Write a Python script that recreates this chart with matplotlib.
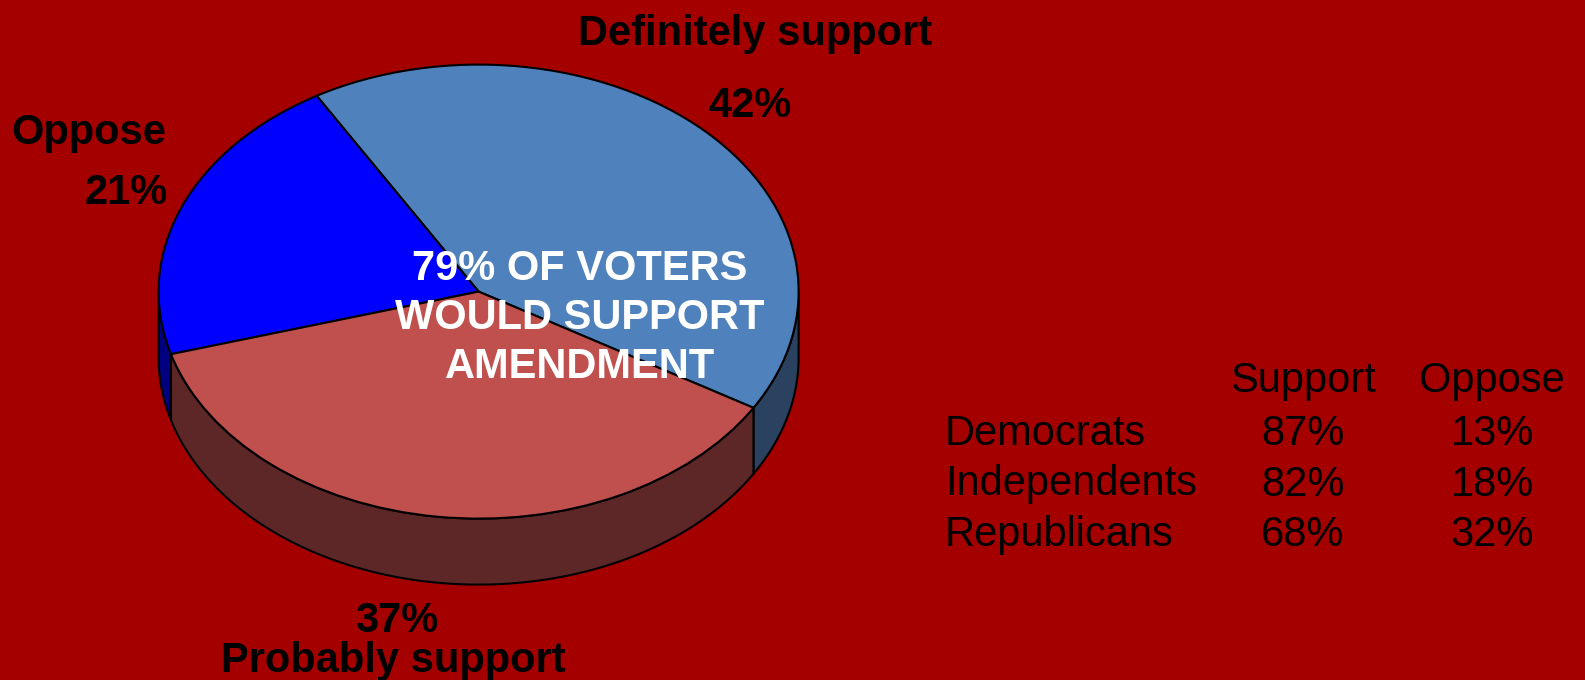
import numpy as np
import matplotlib
matplotlib.use('Agg')
import matplotlib.pyplot as plt
from matplotlib.patches import Polygon

# ---- data ----
labels = ['Definitely support', 'Oppose', 'Probably support']
values = [42, 21, 37]
top_colors = ['#4F81BD', '#0000FF', '#C0504D']
side_colors = ['#2A4260', '#000080', '#5E2727']
center_lines = ['79% OF VOTERS', 'WOULD SUPPORT', 'AMENDMENT']
table_cols = ['Support', 'Oppose']
parties = ['Democrats', 'Independents', 'Republicans']
support = [87, 82, 68]
oppose = [13, 18, 32]

W, H = 1585, 680
BG = '#A40000'
FONT = 'Liberation Sans'

fig = plt.figure(figsize=(W / 100, H / 100), dpi=100, facecolor=BG)
ax = fig.add_axes([0, 0, 1, 1])

# ellipse geometry in pixels
cx, cy, a, b = 478.6, 291.6, 320.0, 227.0
depth = 66.0 / b

wedges, _ = ax.pie(values, colors=top_colors, startangle=-30.8, counterclock=True,
                   radius=1, center=(0, 0),
                   wedgeprops=dict(edgecolor='black', linewidth=1.5, zorder=3))

for w, sc in zip(wedges, side_colors):
    t1, t2 = w.theta1, w.theta2
    for shift in (-360, 0, 360):
        lo = max(t1 + shift, 180)
        hi = min(t2 + shift, 360)
        if hi > lo:
            ts = np.radians(np.linspace(lo, hi, 150))
            top = np.column_stack([np.cos(ts), np.sin(ts)])
            bot = np.column_stack([np.cos(ts), np.sin(ts) - depth])[::-1]
            ax.add_patch(Polygon(np.vstack([top, bot]), closed=True, facecolor=sc,
                                 edgecolor='black', linewidth=1.5, zorder=2))

ax.set_aspect('auto')
ax.set_xlim(-cx / a, (W - cx) / a)
ax.set_ylim((cy - H) / b, cy / b)
ax.axis('off')


def T(x, y, s, **kw):
    kw.setdefault('family', FONT)
    kw.setdefault('fontsize', 30)
    kw.setdefault('va', 'baseline')
    kw.setdefault('ha', 'center')
    fig.text(x / W, 1 - y / H, s, **kw)


pct = [f'{v}%' for v in values]
# slice labels
T(755, 45, labels[0], weight='bold')
T(750, 117, pct[0], weight='bold')
T(89, 144, labels[1], weight='bold')
T(126, 204, pct[1], weight='bold')
T(397, 632, pct[2], weight='bold')
T(393, 672, labels[2], weight='bold')

# center annotation
for i, line in enumerate(center_lines):
    T(580, 280 + i * 49, line, weight='bold', color='white')

# table
col_x = [1303, 1492]
for x, c in zip(col_x, table_cols):
    T(x, 392, c)
for i, p in enumerate(parties):
    y = 445 + i * 50.5
    T(945, y, p, ha='left')
    T(col_x[0], y, f'{support[i]}%')
    T(col_x[1], y, f'{oppose[i]}%')

fig.savefig('out.png', dpi=100, facecolor=BG)
